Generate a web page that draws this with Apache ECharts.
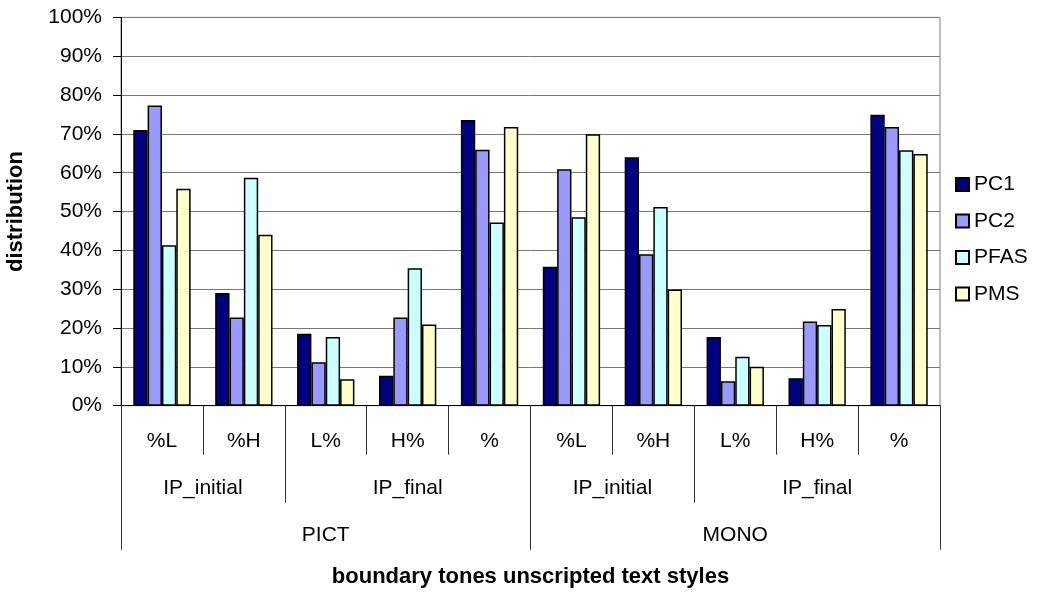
<!DOCTYPE html>
<html>
<head>
<meta charset="utf-8">
<script src="https://cdn.jsdelivr.net/npm/echarts@6/dist/echarts.min.js"></script>
<style>
html,body{margin:0;padding:0;background:#fff;}
#chart{width:1044px;height:592px;}
</style>
</head>
<body>
<div id="chart"></div>
<script>
// ---- data ----
const categories = ['%L', '%H', 'L%', 'H%', '%', '%L', '%H', 'L%', 'H%', '%'];
const level2Labels = ['IP_initial', 'IP_final', 'IP_initial', 'IP_final'];
const level2Spans = [2, 3, 2, 3];
const level3Labels = ['PICT', 'MONO'];
const level3Spans = [5, 5];
const seriesNames = ['PC1', 'PC2', 'PFAS', 'PMS'];
const pc1  = [71.0, 29.0, 18.5, 7.7, 73.6, 35.8, 64.0, 17.7, 7.1, 74.9];
const pc2  = [77.3, 22.7, 11.2, 22.7, 65.9, 60.9, 39.0, 6.3, 21.7, 71.8];
const pfas = [41.3, 58.7, 17.7, 35.4, 47.2, 48.5, 51.2, 12.6, 20.8, 65.8];
const pms  = [55.9, 44.0, 6.8, 20.9, 71.8, 69.9, 29.9, 10.0, 24.9, 64.8];
const yTicks = [0, 10, 20, 30, 40, 50, 60, 70, 80, 90, 100];
const xTitle = 'boundary tones unscripted text styles';
const yTitle = 'distribution';

// ---- styling ----
const colors = ['#000080', '#9999ff', '#ccffff', '#ffffcc'];
const FONT = '"Liberation Sans", Arial, sans-serif';

function groupBounds(spans) {
  const b = [0]; let acc = 0;
  spans.forEach(s => { acc += s; b.push(acc); });
  return b;
}
function groupCenters(spans) {
  const c = []; let acc = 0;
  spans.forEach(s => { c.push(acc + s / 2); acc += s; });
  return c;
}
const l2b = groupBounds(level2Spans), l2c = groupCenters(level2Spans);
const l3b = groupBounds(level3Spans), l3c = groupCenters(level3Spans);
function labelFor(centers, labels) {
  return v => { const i = centers.findIndex(c => Math.abs(c - v) < 1e-6); return i >= 0 ? labels[i] : ''; };
}

const chart = echarts.init(document.getElementById('chart'), null, {renderer: 'canvas'});
const dataSets = [pc1, pc2, pfas, pms];

const option = {
  animation: false,
  backgroundColor: '#ffffff',
  textStyle: {fontFamily: FONT},
  grid: {left: 121, right: 104, top: 17.4, bottom: 186.3, containLabel: false, outerBoundsMode: 'none',
         show: true, borderColor: '#808080', borderWidth: 1, backgroundColor: '#ffffff'},
  legend: {
    orient: 'vertical', left: 955, top: 174, padding: 0,
    itemWidth: 13, itemHeight: 13, itemGap: 15.5, icon: 'rect',
    textStyle: {fontSize: 21, color: '#000', fontFamily: FONT, padding: [0, 0, 0, 0]},
    data: seriesNames
  },
  xAxis: [
    {
      type: 'category', data: categories, gridIndex: 0, position: 'bottom',
      axisLine: {lineStyle: {color: '#000', width: 1}},
      axisTick: {show: true, length: 49, interval: 0, lineStyle: {color: '#333'}},
      axisLabel: {fontSize: 21, color: '#000', margin: 25, interval: 0, fontFamily: FONT},
      splitLine: {show: false}
    },
    {
      type: 'value', min: 0, max: 10, gridIndex: 0, position: 'bottom',
      axisLine: {show: false},
      axisTick: {show: true, length: 97, customValues: l2b, lineStyle: {color: '#333'}},
      axisLabel: {fontSize: 21, color: '#000', margin: 72, customValues: l2c, formatter: labelFor(l2c, level2Labels), fontFamily: FONT},
      splitLine: {show: false}
    },
    {
      type: 'value', min: 0, max: 10, gridIndex: 0, position: 'bottom',
      axisLine: {show: false},
      axisTick: {show: true, length: 144, customValues: l3b, lineStyle: {color: '#333'}},
      axisLabel: {fontSize: 21, color: '#000', margin: 119, customValues: l3c, formatter: labelFor(l3c, level3Labels), fontFamily: FONT},
      splitLine: {show: false},
      name: xTitle, nameLocation: 'middle', nameGap: 160,
      nameTextStyle: {fontSize: 22, fontWeight: 'bold', color: '#000', fontFamily: FONT}
    }
  ],
  yAxis: {
    type: 'value', min: yTicks[0], max: yTicks[yTicks.length - 1], interval: yTicks[1] - yTicks[0],
    axisLine: {show: true, lineStyle: {color: '#000', width: 1}},
    axisTick: {show: true, length: 8, lineStyle: {color: '#000'}},
    axisLabel: {fontSize: 21, color: '#000', margin: 19, formatter: '{value}%', fontFamily: FONT},
    splitLine: {show: true, lineStyle: {color: '#777', width: 1}},
    name: yTitle, nameLocation: 'middle', nameGap: 94,
    nameTextStyle: {fontSize: 22, fontWeight: 'bold', color: '#000', fontFamily: FONT}
  },
  series: seriesNames.map((n, i) => ({
    name: n, type: 'bar', xAxisIndex: 0, data: dataSets[i],
    barGap: '0%', barCategoryGap: '30%',
    itemStyle: {color: colors[i], borderColor: '#000', borderWidth: 1.5}
  }))
};
chart.setOption(option);
</script>
</body>
</html>
